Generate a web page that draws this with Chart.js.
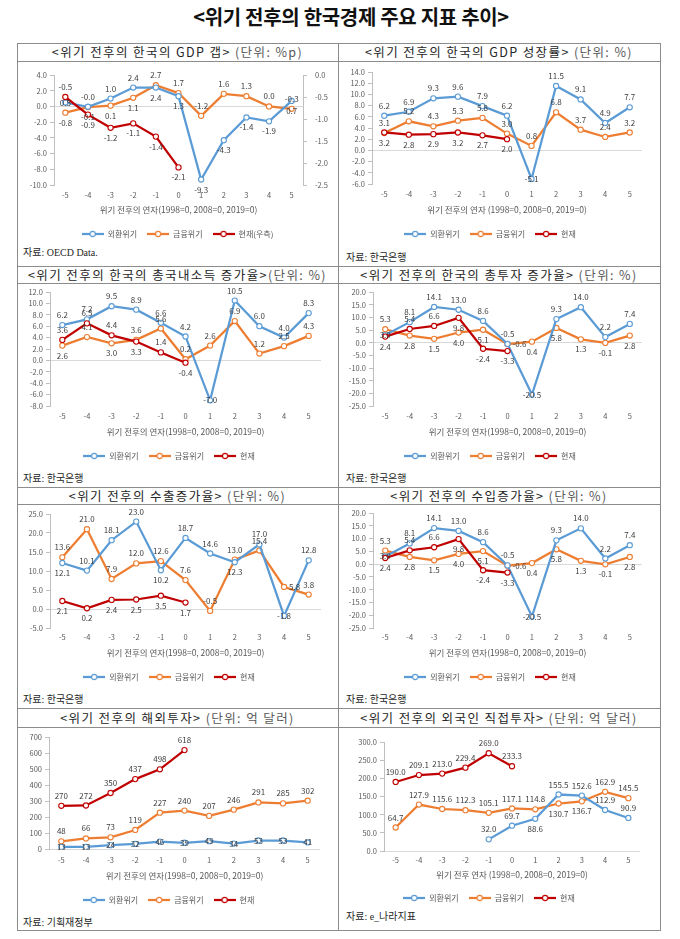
<!DOCTYPE html>
<html><head><meta charset="utf-8">
<script src="https://cdn.jsdelivr.net/npm/chart.js@4.4.1/dist/chart.umd.min.js"></script>
<style>
body{margin:0;width:680px;height:939px;background:#fff;position:relative;overflow:hidden;font-family:'Noto Sans CJK KR','Noto Sans',sans-serif;}
.hl{position:absolute;height:1px;background:#8c8c8c}
.vl{position:absolute;width:1px;background:#8c8c8c}
.main{position:absolute;top:4px;left:351px;transform:translateX(-50%);font-size:20px;font-weight:bold;color:#111;white-space:nowrap;line-height:26px;letter-spacing:-0.3px}
.pt{position:absolute;text-align:center;font-size:12.5px;letter-spacing:1.4px;color:#262626;white-space:nowrap;line-height:18px}
.pt span{color:#595959}
.src{position:absolute;font-size:10px;color:#262626;white-space:nowrap;line-height:12px;font-family:'Liberation Serif','Noto Sans CJK KR',serif}
.cw{position:absolute}
canvas{display:block}
</style></head><body>
<div class="main">&lt;위기 전후의 한국경제 주요 지표 추이&gt;</div>
<script>
// ---------------- DATA ----------------
const years = ['-5','-4','-3','-2','-1','0','1','2','3','4','5'];
const seriesNames = ['외환위기','금융위기','현재'];

// GDP gap (%p); 현재 on right axis
const gapFx  = [0.5, -0.04, 1.0, 2.4, 2.4, 1.3, -9.3, -4.3, -1.4, -1.9, 0.7];
const gapFin = [-0.8, -0.1, 0.1, 1.1, 2.7, 1.7, -1.2, 1.6, 1.3, 0.0, -0.3];
const gapNow = [-0.5, -0.9, -1.2, -1.1, -1.4, -2.1];
const gapAxis = [-10, 4, 2];
const gapAxisRight = [-2.5, 0, 0.5];

// GDP growth (%)
const gdpFx  = [6.2, 6.9, 9.3, 9.6, 7.9, 6.2, -5.1, 11.5, 9.1, 4.9, 7.7];
const gdpFin = [3.1, 5.2, 4.3, 5.3, 5.8, 3.0, 0.8, 6.8, 3.7, 2.4, 3.2];
const gdpNow = [3.2, 2.8, 2.9, 3.2, 2.7, 2.0];
const gdpAxis = [-6, 14, 2];

// Gross domestic income growth (%)
const gdiFx  = [6.2, 7.2, 9.5, 8.9, 6.6, 4.2, -7.0, 10.5, 6.0, 4.0, 8.3];
const gdiFin = [2.6, 4.1, 3.0, 3.6, 5.6, 0.2, 2.6, 6.9, 1.2, 2.5, 4.3];
const gdiNow = [3.6, 6.5, 4.4, 3.3, 1.4, -0.4];
const gdiAxis = [-8, 12, 2];

// Gross investment growth (%)
const invFx  = [3.0, 8.1, 14.1, 13.0, 8.6, -0.5, -20.5, 9.3, 14.0, 2.2, 7.4];
const invFin = [5.3, 2.8, 1.5, 4.0, 5.1, -0.6, 0.4, 5.8, 1.3, -0.1, 2.8];
const invNow = [2.4, 5.4, 6.6, 9.8, -2.4, -3.3];
const invAxis = [-25, 20, 5];

// Export growth (%)
const expFx  = [12.1, 10.1, 18.1, 23.0, 10.2, 18.7, 14.6, 12.3, 17.0, -1.8, 12.8];
const expFin = [13.6, 21.0, 7.9, 12.0, 12.6, 7.6, -0.5, 13.0, 15.4, 5.8, 3.8];
const expNow = [2.1, 0.2, 2.4, 2.5, 3.5, 1.7];
const expAxis = [-5, 25, 5];

// Import growth (%)
const impFx  = [3.0, 8.1, 14.1, 13.0, 8.6, -0.5, -20.5, 9.3, 14.0, 2.2, 7.4];
const impFin = [5.3, 2.8, 1.5, 4.0, 5.1, -0.6, 0.4, 5.8, 1.3, -0.1, 2.8];
const impNow = [2.4, 5.4, 6.6, 9.8, -2.4, -3.3];
const impAxis = [-25, 20, 5];

// Outward investment (억 달러)
const odiFx  = [13, 13, 24, 32, 46, 39, 49, 34, 53, 53, 41];
const odiFin = [48, 66, 73, 119, 227, 240, 207, 246, 291, 285, 302];
const odiNow = [270, 272, 350, 437, 498, 618];
const odiAxis = [0, 700, 100];

// Foreign direct investment (억 달러)
const fdiFx  = [null, null, null, null, 32.0, 69.7, 88.6, 155.5, 152.6, 112.9, 90.9];
const fdiFin = [64.7, 127.9, 115.6, 112.3, 105.1, 117.1, 114.8, 130.7, 136.7, 162.9, 145.5];
const fdiNow = [190.0, 209.1, 213.0, 229.4, 269.0, 233.3];
const fdiAxis = [0, 300, 50];

// ---------------- STYLE / LAYOUT ----------------
const FAMILY = "'Noto Sans CJK KR','Noto Sans',sans-serif";
const COLORS = ['#5B9BD5', '#ED7D31', '#C00000'];
const TF = 7.5, LF = 8, XF = 8.5, DF = 8;
Chart.defaults.font.family = FAMILY;
Chart.defaults.animation = false;

const X_TITLE = '위기 전후의 연자(1998=0, 2008=0, 2019=0)';

const panels = [
  {title:'&lt;위기 전후의 한국의 GDP 갭&gt;', unit:' (단위: %p)', src:'자료: OECD Data.', srcPos:[23,247],
   tpos:[17,43,321,18], geo:{x:17,y:61,w:321,L:54,R:303,T:75,B:185,tickY:195,titleY:210,legendY:234},
   data:[gapFx,gapFin,gapNow], axis:gapAxis, right:gapAxisRight, dec:1, xt:X_TITLE, nowLabel:'현재(우측)',
   pos:['caaabbbbbbb','bbbbaaaaaaa','abbbbb']},
  {title:'&lt;위기 전후의 한국의 GDP 성장률&gt;', unit:' (단위: %)', src:'자료: 한국은행', srcPos:[346,252],
   tpos:[338,43,322,18], geo:{x:338,y:61,w:322,L:372,R:642,T:72,B:184,tickY:194,titleY:210,legendY:234},
   data:[gdpFx,gdpFin,gdpNow], axis:gdpAxis, dec:1, xt:'위기 전후의 연자 (1998=0, 2008=0, 2019=0)',
   pos:['aaaaaacaaaa','aaaaaaaaaaa','bbbbbb']},
  {title:'&lt;위기 전후의 한국의 총국내소득 증가율&gt;', unit:'(단위: %)', src:'자료: 한국은행', srcPos:[23,473],
   tpos:[17,266,321,17], geo:{x:17,y:283,w:321,L:50,R:321,T:292,B:406,tickY:416,titleY:432,legendY:456},
   data:[gdiFx,gdiFin,gdiNow], axis:gdiAxis, dec:1, xt:X_TITLE,
   pos:['aaaaaacaaaa','babaaaaaaaa','aaabab']},
  {title:'&lt;위기 전후의 한국의 총투자 증가율&gt;', unit:' (단위: %)', src:'자료: 한국은행', srcPos:[346,473],
   tpos:[338,266,322,17], geo:{x:338,y:283,w:322,L:373,R:642,T:292,B:406,tickY:416,titleY:432,legendY:456},
   data:[invFx,invFin,invNow], axis:invAxis, dec:1, xt:X_TITLE,
   pos:['caaaaacaaaa','abbbbrbbbbb','baabbb']},
  {title:'&lt;위기 전후의 수출증가율&gt;', unit:' (단위: %)', src:'자료: 한국은행', srcPos:[23,694],
   tpos:[17,487,321,17], geo:{x:17,y:504,w:321,L:50,R:321,T:514,B:628,tickY:637,titleY:653,legendY:677},
   data:[expFx,expFin,expNow], axis:expAxis, dec:1, xt:X_TITLE,
   pos:['baaabaabaca','aaaaaaaaara','bbbbbb']},
  {title:'&lt;위기 전후의 수입증가율&gt;', unit:' (단위: %)', src:'자료: 한국은행', srcPos:[346,694],
   tpos:[338,487,322,17], geo:{x:338,y:504,w:322,L:373,R:642,T:513,B:628,tickY:637,titleY:653,legendY:677},
   data:[impFx,impFin,impNow], axis:impAxis, dec:1, xt:X_TITLE,
   pos:['caaaaacaaaa','abbbbrbbbbb','baabbb']},
  {title:'&lt;위기 전후의 해외투자&gt;', unit:' (단위: 억 달러)', src:'자료: 기획재정부', srcPos:[23,917],
   tpos:[17,708,321,19], geo:{x:17,y:727,w:321,L:49,R:320,T:737,B:849,tickY:860,titleY:876,legendY:900},
   data:[odiFx,odiFin,odiNow], axis:odiAxis, dec:0, xt:X_TITLE,
   pos:['ccccccccccc','aaaaaaaaaaa','aaaaaa']},
  {title:'&lt;위기 전후의 외국인 직접투자&gt;', unit:' (단위: 억 달러)', src:'자료: e_나라지표', srcPos:[346,911],
   tpos:[338,708,322,19], geo:{x:338,y:727,w:322,L:384,R:640,T:742,B:851,tickY:860,titleY:875,legendY:898},
   data:[fdiFx,fdiFin,fdiNow], axis:fdiAxis, dec:1, xt:'위기 전후 연자 (1998=0, 2008=0, 2019=0)',
   pos:['aaaaaabaaaa','aaaaaaabbaa','aaaaaa']}
];

// ---------------- TABLE FRAME ----------------
function line(cls, x, y, len) {
  const d = document.createElement('div'); d.className = cls;
  d.style.left = x + 'px'; d.style.top = y + 'px';
  if (cls === 'hl') d.style.width = len + 'px'; else d.style.height = len + 'px';
  document.body.appendChild(d);
}
[43, 61, 266, 283, 487, 504, 708, 727, 930].forEach(y => line('hl', 17, y, 644));
line('vl', 17, 43, 888); line('vl', 338, 43, 888); line('vl', 660, 43, 888);

// ---------------- PLUGIN: value labels ----------------
const valueLabels = {
  id: 'valueLabels',
  afterDatasetsDraw(chart, args, opts) {
    const ctx = chart.ctx;
    ctx.save();
    ctx.font = DF + 'px ' + FAMILY;
    ctx.fillStyle = '#404040';
    chart.data.datasets.forEach((ds, di) => {
      const meta = chart.getDatasetMeta(di);
      const pos = opts.pos[di];
      meta.data.forEach((el, i) => {
        const v = ds.data[i];
        if (v === null || v === undefined) return;
        const txt = v.toFixed(opts.dec);
        const p = pos[i];
        let x = el.x, y = el.y;
        ctx.textAlign = 'center'; ctx.textBaseline = 'middle';
        if (p === 'a') y -= 10;
        else if (p === 'b') y += 10;
        else if (p === 'l') { x -= 5; ctx.textAlign = 'right'; }
        else if (p === 'r') { x += 5; ctx.textAlign = 'left'; }
        ctx.fillText(txt, x, y);
      });
    });
    ctx.restore();
  }
};

function marker(color) {
  const c = document.createElement('canvas'); c.width = 22; c.height = 8;
  const g = c.getContext('2d');
  g.strokeStyle = color; g.lineWidth = 2.25;
  g.beginPath(); g.moveTo(0, 4); g.lineTo(22, 4); g.stroke();
  g.fillStyle = '#fff'; g.lineWidth = 1.1;
  g.beginPath(); g.arc(11, 4, 2.6, 0, Math.PI * 2); g.fill(); g.stroke();
  return c;
}
const markers = COLORS.map(marker);

function zeroGrid(ctx) { return ctx.tick && Math.abs(ctx.tick.value) < 1e-9 ? '#d9d9d9' : 'rgba(0,0,0,0)'; }

// ---------------- BUILD ----------------
panels.forEach(p => {
  const t = document.createElement('div'); t.className = 'pt';
  t.style.left = p.tpos[0] + 'px'; t.style.top = p.tpos[1] + 'px';
  t.style.width = p.tpos[2] + 'px'; t.style.lineHeight = p.tpos[3] + 'px';
  t.innerHTML = p.title + '<span>' + p.unit + '</span>';
  document.body.appendChild(t);
  const s = document.createElement('div'); s.className = 'src';
  s.style.left = p.srcPos[0] + 'px'; s.style.top = p.srcPos[1] + 'px';
  s.textContent = p.src;
  document.body.appendChild(s);

  const g = p.geo;
  const legendH = LF + 20;
  const h = Math.round(g.legendY - g.y + 10 + LF / 2);
  const xAxisH = (h - legendH) - (g.B - g.y);
  const tickPad = g.tickY - g.B - TF * 1.2 / 2;
  const titlePB = (g.y + h - legendH) - g.titleY - XF * 1.2 / 2;
  const yW = g.L - g.x;
  const rightW = g.x + g.w - g.R;

  const wrap = document.createElement('div'); wrap.className = 'cw';
  wrap.style.left = g.x + 'px'; wrap.style.top = g.y + 'px';
  const c = document.createElement('canvas');
  c.width = g.w; c.height = h; c.style.width = g.w + 'px'; c.style.height = h + 'px';
  wrap.appendChild(c); document.body.appendChild(wrap);

  const names = [seriesNames[0], seriesNames[1], p.nowLabel || seriesNames[2]];
  const datasets = p.data.map((arr, i) => ({
    label: names[i], data: arr,
    borderColor: COLORS[i], backgroundColor: '#fff',
    borderWidth: 2.25, pointRadius: 2.6, pointBorderWidth: 1.1,
    pointBackgroundColor: '#fff', pointBorderColor: COLORS[i],
    tension: 0, order: i === 2 ? -1 : i,
    yAxisID: (i === 2 && p.right) ? 'y2' : 'y'
  }));

  const fmt = v => Number(v).toFixed(p.dec);
  const scales = {
    x: {
      type: 'category', offset: true,
      grid: { display: false, drawTicks: false },
      border: { display: false },
      ticks: { color: '#595959', font: { size: TF }, padding: tickPad, maxRotation: 0, autoSkip: false },
      title: { display: true, text: p.xt, color: '#595959', font: { size: XF }, padding: { top: 0, bottom: titlePB } },
      afterFit: sc => { sc.height = xAxisH; }
    },
    y: {
      position: 'left', min: p.axis[0], max: p.axis[1],
      ticks: { stepSize: p.axis[2], autoSkip: false, color: '#595959', font: { size: TF }, padding: 3, callback: fmt },
      grid: { display: true, drawOnChartArea: true, color: zeroGrid, drawTicks: true, tickLength: 4, tickColor: '#bfbfbf', lineWidth: 1 },
      border: { display: true, color: '#bfbfbf', width: 1 },
      afterFit: sc => { sc.width = yW; }
    }
  };
  let padRight = rightW;
  if (p.right) {
    padRight = 0;
    scales.y2 = {
      position: 'right', min: p.right[0], max: p.right[1],
      ticks: { stepSize: p.right[2], autoSkip: false, color: '#595959', font: { size: TF }, padding: 8, callback: v => Number(v).toFixed(1) },
      grid: { display: true, drawOnChartArea: false, drawTicks: true, tickLength: 4, tickColor: '#bfbfbf' },
      border: { display: true, color: '#bfbfbf', width: 1 },
      afterFit: sc => { sc.width = rightW; }
    };
  }

  new Chart(c, {
    type: 'line',
    data: { labels: years, datasets },
    options: {
      responsive: false, animation: false,
      layout: { padding: { top: g.T - g.y, right: padRight, left: 0, bottom: 0 } },
      scales,
      plugins: {
        tooltip: { enabled: false },
        legend: {
          display: true, position: 'bottom',
          labels: {
            usePointStyle: true, pointStyleWidth: 22, padding: 10,
            font: { size: LF }, color: '#595959',
            generateLabels: chart => chart.data.datasets.map((ds, i) => ({
              text: ds.label, pointStyle: markers[i], fillStyle: '#fff', strokeStyle: ds.borderColor,
              lineWidth: 0, hidden: false, datasetIndex: i, fontColor: '#595959'
            }))
          }
        },
        valueLabels: { pos: p.pos, dec: p.dec }
      }
    },
    plugins: [valueLabels]
  });
});
</script>
</body></html>
